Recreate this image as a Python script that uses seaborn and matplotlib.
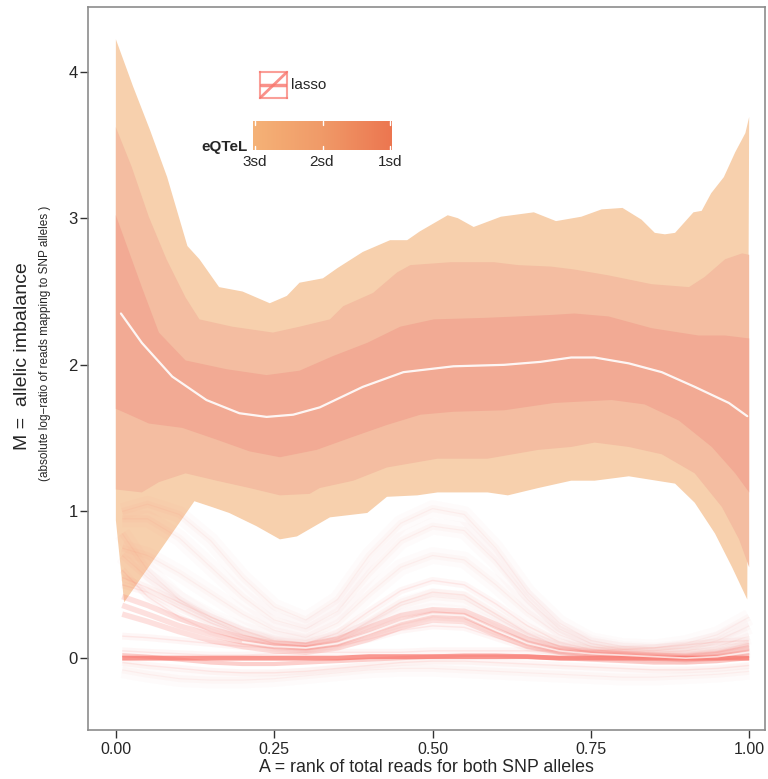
import numpy as np
import pandas as pd
import matplotlib
matplotlib.use("Agg")
import matplotlib.pyplot as plt
from matplotlib.colors import LinearSegmentedColormap
import seaborn as sns

# ---- eQTeL bands: edges (A, M) ----
up3_x = [0.0, 0.027, 0.054, 0.081, 0.113, 0.132, 0.163, 0.20, 0.243, 0.27, 0.29, 0.327, 0.35, 0.39, 0.433,
         0.46, 0.48, 0.524, 0.54, 0.565, 0.608, 0.66, 0.695, 0.735, 0.767, 0.80, 0.83, 0.851, 0.867, 0.883,
         0.912, 0.925, 0.94, 0.96, 0.978, 0.994, 1.0]
up3_y = [4.22, 3.90, 3.60, 3.28, 2.81, 2.72, 2.53, 2.50, 2.42, 2.47, 2.56, 2.59, 2.66, 2.77, 2.85,
         2.85, 2.91, 3.02, 3.00, 2.94, 3.01, 3.04, 2.98, 3.01, 3.06, 3.07, 2.99, 2.90, 2.89, 2.90,
         3.04, 3.05, 3.17, 3.28, 3.45, 3.58, 3.69]

up2_x = [0.0, 0.025, 0.052, 0.08, 0.11, 0.132, 0.184, 0.248, 0.29, 0.338, 0.359, 0.406, 0.444, 0.465, 0.529,
         0.597, 0.635, 0.687, 0.724, 0.778, 0.846, 0.905, 0.93, 0.962, 0.989, 1.0]
up2_y = [3.62, 3.35, 3.01, 2.72, 2.46, 2.31, 2.26, 2.22, 2.26, 2.31, 2.40, 2.49, 2.63, 2.68, 2.70,
         2.70, 2.68, 2.67, 2.65, 2.61, 2.55, 2.53, 2.60, 2.72, 2.76, 2.75]

up1_x = [0.0, 0.041, 0.068, 0.11, 0.175, 0.238, 0.29, 0.343, 0.397, 0.449, 0.502, 0.581, 0.635, 0.687,
         0.724, 0.778, 0.846, 0.92, 0.962, 1.0]
up1_y = [3.02, 2.53, 2.22, 2.03, 1.97, 1.93, 1.96, 2.06, 2.15, 2.26, 2.31, 2.32, 2.33, 2.34,
         2.35, 2.33, 2.25, 2.20, 2.20, 2.18]

mean_x = [0.008, 0.041, 0.089, 0.143, 0.195, 0.238, 0.28, 0.322, 0.39, 0.454, 0.533, 0.613, 0.67, 0.719,
          0.756, 0.81, 0.862, 0.914, 0.968, 0.997]
mean_y = [2.35, 2.15, 1.92, 1.76, 1.67, 1.645, 1.66, 1.71, 1.85, 1.95, 1.99, 2.00, 2.02, 2.05,
          2.05, 2.01, 1.95, 1.85, 1.74, 1.65]

lo1_x = [0.0, 0.016, 0.052, 0.105, 0.159, 0.211, 0.259, 0.317, 0.375, 0.428, 0.481, 0.533, 0.613, 0.692,
         0.783, 0.835, 0.889, 0.941, 0.978, 1.0]
lo1_y = [1.70, 1.67, 1.60, 1.57, 1.49, 1.41, 1.37, 1.42, 1.51, 1.59, 1.66, 1.68, 1.69, 1.74,
         1.76, 1.73, 1.62, 1.44, 1.26, 1.13]

lo2_x = [0.0, 0.041, 0.068, 0.11, 0.159, 0.211, 0.259, 0.306, 0.322, 0.375, 0.428, 0.508, 0.587, 0.667,
         0.719, 0.756, 0.81, 0.862, 0.914, 0.957, 0.984, 1.0]
lo2_y = [1.15, 1.13, 1.20, 1.26, 1.21, 1.16, 1.11, 1.12, 1.16, 1.21, 1.30, 1.36, 1.36, 1.42,
         1.44, 1.47, 1.44, 1.39, 1.26, 1.03, 0.81, 0.62]

lo3_x = [0.0, 0.008, 0.013, 0.124, 0.152, 0.179, 0.222, 0.259, 0.286, 0.338, 0.397, 0.428, 0.476, 0.508,
         0.587, 0.619, 0.667, 0.719, 0.756, 0.81, 0.883, 0.914, 0.946, 0.973, 0.997]
lo3_y = [0.94, 0.60, 0.38, 1.07, 1.03, 0.99, 0.90, 0.81, 0.83, 0.96, 0.99, 1.10, 1.11, 1.13,
         1.13, 1.11, 1.16, 1.21, 1.21, 1.24, 1.19, 1.06, 0.85, 0.62, 0.40]

# ---- lasso draws (representative curves) ----
lasso_A = [0.01, 0.05, 0.10, 0.15, 0.20, 0.25, 0.30, 0.35, 0.40, 0.45, 0.50,
           0.55, 0.60, 0.65, 0.70, 0.75, 0.80, 0.85, 0.90, 0.95, 1.00]
bump_core = [0.36, 0.30, 0.22, 0.16, 0.11, 0.08, 0.07, 0.10, 0.17, 0.25, 0.30, 0.29, 0.19, 0.10, 0.05, 0.03, 0.02, 0.01, 0.00, 0.01, 0.04]
bump_low = [0.30, 0.25, 0.18, 0.12, 0.08, 0.05, 0.04, 0.07, 0.13, 0.21, 0.26, 0.25, 0.16, 0.08, 0.04, 0.02, 0.01, 0.00, -0.01, 0.00, 0.02]
bump_high = [0.42, 0.36, 0.27, 0.20, 0.14, 0.10, 0.09, 0.13, 0.21, 0.29, 0.33, 0.32, 0.23, 0.13, 0.07, 0.04, 0.03, 0.02, 0.01, 0.03, 0.07]
bump_upper = [0.55, 0.48, 0.38, 0.28, 0.19, 0.12, 0.10, 0.17, 0.32, 0.46, 0.53, 0.50, 0.37, 0.22, 0.11, 0.06, 0.04, 0.03, 0.03, 0.05, 0.10]
bump_fan1 = [0.75, 0.70, 0.58, 0.44, 0.30, 0.19, 0.14, 0.24, 0.44, 0.62, 0.70, 0.67, 0.50, 0.31, 0.16, 0.08, 0.05, 0.04, 0.05, 0.08, 0.15]
bump_fan2 = [0.95, 0.95, 0.82, 0.62, 0.42, 0.26, 0.20, 0.32, 0.58, 0.80, 0.90, 0.87, 0.66, 0.40, 0.20, 0.10, 0.06, 0.05, 0.07, 0.12, 0.22]
bump_fan3 = [1.00, 1.05, 0.98, 0.80, 0.55, 0.35, 0.26, 0.40, 0.70, 0.92, 1.02, 0.98, 0.75, 0.45, 0.24, 0.12, 0.08, 0.07, 0.10, 0.16, 0.28]
bump_flat = [0.15, 0.14, 0.12, 0.10, 0.08, 0.07, 0.06, 0.08, 0.13, 0.19, 0.22, 0.21, 0.14, 0.07, 0.03, 0.01, 0.00, -0.01, -0.02, -0.01, 0.01]
bump_steep1 = [0.60, 0.42, 0.28, 0.18, 0.12, 0.08, 0.06, 0.09, 0.16, 0.23, 0.28, 0.27, 0.18, 0.10, 0.05, 0.03, 0.02, 0.01, 0.00, 0.02, 0.05]
bump_steep2 = [0.85, 0.60, 0.40, 0.26, 0.16, 0.10, 0.08, 0.12, 0.20, 0.28, 0.32, 0.30, 0.21, 0.12, 0.06, 0.03, 0.02, 0.01, 0.01, 0.02, 0.06]
bump_steep3 = [0.70, 0.55, 0.40, 0.28, 0.19, 0.13, 0.10, 0.14, 0.24, 0.36, 0.42, 0.40, 0.28, 0.16, 0.08, 0.04, 0.03, 0.02, 0.02, 0.04, 0.08]
bump_mid = [0.50, 0.45, 0.34, 0.24, 0.16, 0.10, 0.08, 0.13, 0.25, 0.38, 0.45, 0.43, 0.30, 0.17, 0.08, 0.04, 0.03, 0.02, 0.02, 0.04, 0.09]
flat_core = [0.00, 0.00, 0.00, 0.00, 0.00, 0.00, 0.00, 0.00, 0.01, 0.01, 0.01, 0.01, 0.01, 0.01, 0.00, 0.00, 0.00, 0.00, 0.00, 0.00, 0.00]
flat_dip = [0.02, 0.01, -0.01, -0.03, -0.04, -0.04, -0.03, -0.02, -0.01, 0.00, 0.01, 0.02, 0.02, 0.01, 0.00, -0.01, -0.02, -0.03, -0.03, -0.02, 0.00]
flat_under = [-0.03, -0.05, -0.07, -0.09, -0.10, -0.10, -0.09, -0.07, -0.05, -0.03, -0.02, -0.02, -0.03, -0.04, -0.05, -0.06, -0.07, -0.08, -0.08, -0.07, -0.05]
flat_deep = [-0.08, -0.11, -0.14, -0.15, -0.15, -0.14, -0.12, -0.10, -0.08, -0.07, -0.07, -0.08, -0.09, -0.10, -0.11, -0.12, -0.13, -0.13, -0.12, -0.11, -0.09]
flat_over = [0.05, 0.04, 0.03, 0.02, 0.02, 0.03, 0.04, 0.04, 0.04, 0.04, 0.05, 0.05, 0.05, 0.05, 0.05, 0.05, 0.06, 0.07, 0.09, 0.11, 0.12]

sd_labels = ["3sd", "2sd", "1sd"]

LASSO = "#F8766D"
BAND_COLORS = ["#F7D0AD", "#F4BDA1", "#F2AA94"]


def lines_df(curves):
    parts = [pd.DataFrame({"A": lasso_A, "M": ys, "draw": i}) for i, ys in enumerate(curves)]
    return pd.concat(parts, ignore_index=True)


def band(ax, ux, uy, lx, ly, color):
    ax.fill(np.r_[ux, lx[::-1]], np.r_[uy, ly[::-1]], color=color, lw=0, zorder=1)


sns.set_style("white")
plt.rcParams["font.family"] = ["Liberation Sans", "DejaVu Sans"]

fig = plt.figure(figsize=(7.68, 7.79), dpi=100)
ax = fig.add_axes([88 / 768, 1 - 730 / 779, 677 / 768, 723 / 779])

band(ax, up3_x, up3_y, lo3_x, lo3_y, BAND_COLORS[0])
band(ax, up2_x, up2_y, lo2_x, lo2_y, BAND_COLORS[1])
band(ax, up1_x, up1_y, lo1_x, lo1_y, BAND_COLORS[2])
sns.lineplot(x=mean_x, y=mean_y, color="white", lw=1.6, alpha=0.9, ax=ax, zorder=4)

fan = [bump_fan1, bump_fan2, bump_fan3, bump_steep2, bump_steep3, flat_deep]
mid = [bump_upper, bump_mid, bump_steep1, bump_flat, flat_under, flat_over]
groups = [
    (fan, 12, 0.025),
    (fan, 5, 0.035),
    (fan, 0.8, 0.07),
    (mid, 5, 0.06),
    (mid, 1.0, 0.12),
    ([bump_core, bump_low, bump_high], 4, 0.22),
    ([flat_dip], 3, 0.35),
    ([flat_core], 3.5, 0.75),
]
for curves, lw, alpha in groups:
    sns.lineplot(data=lines_df(curves), x="A", y="M", units="draw", estimator=None, sort=False,
                 color=LASSO, lw=lw, alpha=alpha, ax=ax, legend=False, zorder=2,
                 solid_joinstyle="round", solid_capstyle="butt")
sns.lineplot(x=lasso_A[4:], y=bump_core[4:], color="white", lw=1.2, alpha=0.7, ax=ax, zorder=3)

ax.set_xlim(-0.044, 1.025)
ax.set_ylim(-0.49, 4.44)
ax.set_xticks([0, 0.25, 0.5, 0.75, 1.0])
ax.set_xticklabels(["0.00", "0.25", "0.50", "0.75", "1.00"], fontsize=11.5)
ax.set_yticks([0, 1, 2, 3, 4])
ax.set_yticklabels(["0", "1", "2", "3", "4"], fontsize=12)
ax.tick_params(direction="out", length=6, width=1, color="#333333", bottom=True, left=True)
ax.tick_params(axis="y", pad=1.5)
ax.tick_params(axis="x", pad=3)
for s in ax.spines.values():
    s.set_color("#8c8c8c")
    s.set_linewidth(1.2)
ax.set_xlabel("A = rank of total reads for both SNP alleles", fontsize=12.8, labelpad=1)
ax.set_ylabel("")

fig.text(0.029, 1 - 356 / 779, "M =  allelic imbalance", rotation=90, ha="center", va="center", fontsize=14)
fig.text(0.059, 1 - 343 / 779, "(absolute log\u2212ratio of reads mapping to SNP alleles )", rotation=90,
         ha="center", va="center", fontsize=8.5)

# lasso legend key
kax = fig.add_axes([260 / 768, 1 - 98 / 779, 27 / 768, 26 / 779])
kax.set_xlim(0, 1)
kax.set_ylim(0, 1)
kax.plot([0.05, 0.95], [0.5, 0.5], color=LASSO, lw=2.5, alpha=0.8)
kax.plot([0.0, 1.0], [0.0, 1.0], color=LASSO, lw=2.0, alpha=0.8)
kax.set_xticks([])
kax.set_yticks([])
kax.patch.set_alpha(0)
for s in kax.spines.values():
    s.set_color(LASSO)
    s.set_alpha(0.7)
    s.set_linewidth(1.5)
fig.text(291 / 768, 1 - 85 / 779, "lasso", ha="left", va="center", fontsize=11)

# eQTeL colour bar
cax = fig.add_axes([253 / 768, 1 - 150 / 779, 139 / 768, 29 / 779])
cmap = LinearSegmentedColormap.from_list("eqtel", ["#F5B277", "#F09A68", "#EC7650"])
cax.imshow(np.linspace(0, 1, 256)[None, :], aspect="auto", cmap=cmap, extent=[0, 1, 0, 1])
for xt in [0.012, 0.5, 0.988]:
    cax.plot([xt, xt], [0.0, 0.15], color="white", lw=1)
    cax.plot([xt, xt], [0.85, 1.0], color="white", lw=1)
cax.set_xlim(0, 1)
cax.set_ylim(0, 1)
cax.axis("off")
for xp, lab in zip([255, 322, 390], sd_labels):
    fig.text(xp / 768, 1 - 162 / 779, lab, ha="center", va="center", fontsize=11)
fig.text(248 / 768, 1 - 147 / 779, "eQTeL", ha="right", va="center", fontsize=11, weight="bold")

fig.savefig("out.png", dpi=100)
